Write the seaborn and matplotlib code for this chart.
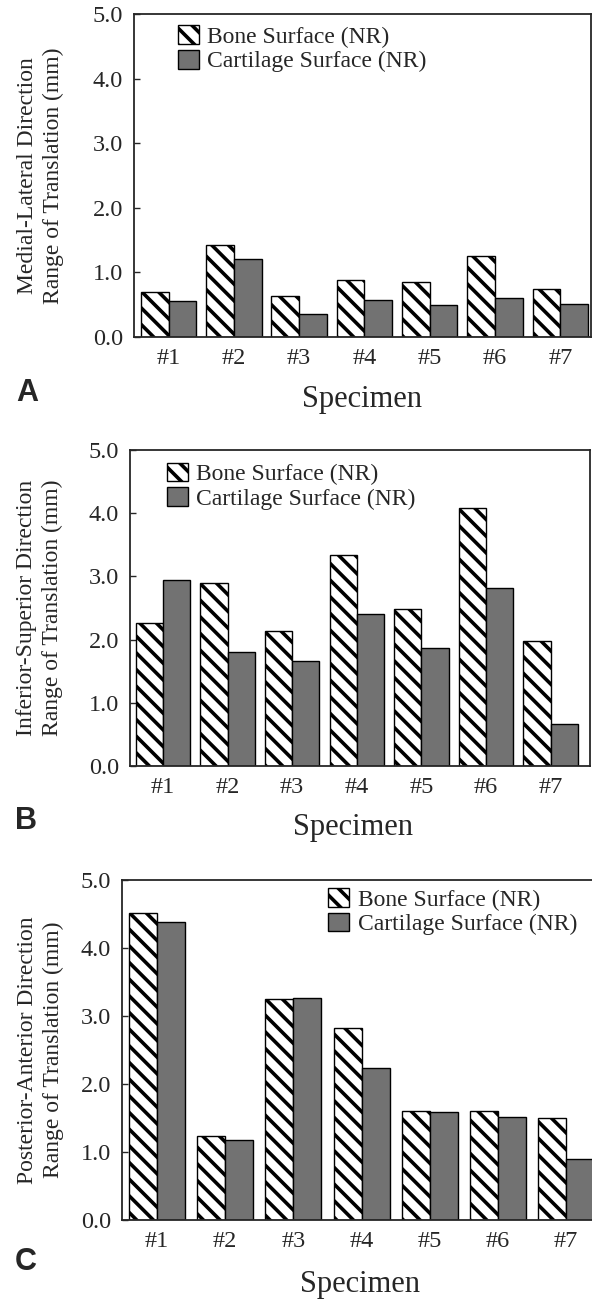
import matplotlib
matplotlib.use("Agg")
import matplotlib.pyplot as plt
from matplotlib.patches import Patch
from matplotlib.ticker import FormatStrFormatter
import seaborn as sns
import pandas as pd

# ---- data ----
specimens = ["#1", "#2", "#3", "#4", "#5", "#6", "#7"]
series_names = ["Bone Surface (NR)", "Cartilage Surface (NR)"]

ml_bone = [0.70, 1.42, 0.63, 0.89, 0.85, 1.25, 0.75]
ml_cart = [0.56, 1.21, 0.36, 0.58, 0.49, 0.60, 0.51]

is_bone = [2.27, 2.90, 2.13, 3.34, 2.48, 4.08, 1.97]
is_cart = [2.95, 1.80, 1.66, 2.41, 1.86, 2.81, 0.66]

pa_bone = [4.52, 1.23, 3.25, 2.83, 1.61, 1.61, 1.50]
pa_cart = [4.38, 1.17, 3.27, 2.24, 1.59, 1.51, 0.90]

ylabels = [
    "Medial-Lateral Direction\nRange of Translation (mm)",
    "Inferior-Superior Direction\nRange of Translation (mm)",
    "Posterior-Anterior Direction\nRange of Translation (mm)",
]
panel_letters = ["A", "B", "C"]
yticks = [0.0, 1.0, 2.0, 3.0, 4.0, 5.0]

sns.set_style("ticks")
plt.rcParams["font.family"] = ["Liberation Serif", "DejaVu Serif"]
plt.rcParams["hatch.linewidth"] = 2.6
plt.rcParams["axes.linewidth"] = 1.3

GRAY = "#727272"
W, H = 592, 1299
fig = plt.figure(figsize=(W / 100, H / 100), dpi=100)

layouts = [
    dict(l=134, t=14, r=591, b=337, xlim=(-0.53, 6.47), bw=0.85, leg=(0.096, 0.965),
         xlc=0.5, ylc=-0.153, letter=(27, 393)),
    dict(l=130, t=450, r=590, b=766, xlim=(-0.51, 6.61), bw=0.84, leg=(0.08, 0.96),
         xlc=0.485, ylc=-0.146, letter=(26, 821)),
    dict(l=122, t=880, r=597, b=1220, xlim=(-0.51, 6.45), bw=0.82, leg=(0.434, 0.976),
         xlc=0.5, ylc=-0.122, letter=(26, 1262)),
]
data = [(ml_bone, ml_cart), (is_bone, is_cart), (pa_bone, pa_cart)]

for i, (lay, (bone, cart)) in enumerate(zip(layouts, data)):
    ax = fig.add_axes([lay["l"] / W, (H - lay["b"]) / H,
                       (lay["r"] - lay["l"]) / W, (lay["b"] - lay["t"]) / H])
    df = pd.DataFrame({
        "Specimen": specimens * 2,
        "value": list(bone) + list(cart),
        "Surface": [series_names[0]] * 7 + [series_names[1]] * 7,
    })
    sns.barplot(data=df, x="Specimen", y="value", hue="Surface",
                palette=["white", GRAY], edgecolor="black", linewidth=1.0,
                width=lay["bw"], ax=ax, legend=False, saturation=1)
    for bar in ax.containers[0]:
        bar.set_hatch("\\\\")
    ax.set_xlim(*lay["xlim"])
    ax.set_ylim(0, 5.0)
    ax.set_yticks(yticks)
    ax.yaxis.set_major_formatter(FormatStrFormatter("%.1f"))
    ax.tick_params(axis="y", direction="in", length=4, width=1, labelsize=17.5, pad=8)
    ax.tick_params(axis="x", length=0, labelsize=17.5, pad=8)
    for s in ax.spines.values():
        s.set_visible(True)
        s.set_linewidth(1.3)
    ax.set_ylabel(ylabels[i], fontsize=17, linespacing=1.3)
    ax.yaxis.set_label_coords(lay["ylc"], 0.5)
    ax.set_xlabel("Specimen", fontsize=22)
    ax.xaxis.set_label_coords(lay["xlc"], -0.148)
    handles = [Patch(facecolor="white", edgecolor="black", hatch="\\\\", linewidth=1.0),
               Patch(facecolor=GRAY, edgecolor="black", linewidth=1.0)]
    ax.legend(handles=handles, labels=series_names, loc="upper left",
              bbox_to_anchor=lay["leg"], frameon=False, fontsize=17,
              handlelength=0.9, handleheight=0.85, handletextpad=0.35,
              labelspacing=0.08, borderpad=0, borderaxespad=0)
    lx, ly = lay["letter"]
    fig.text(lx / W, 1 - ly / H, panel_letters[i], fontsize=22, fontweight="bold",
             family=["Liberation Sans", "DejaVu Sans"], ha="center", va="center")

fig.savefig("out.png", dpi=100)
